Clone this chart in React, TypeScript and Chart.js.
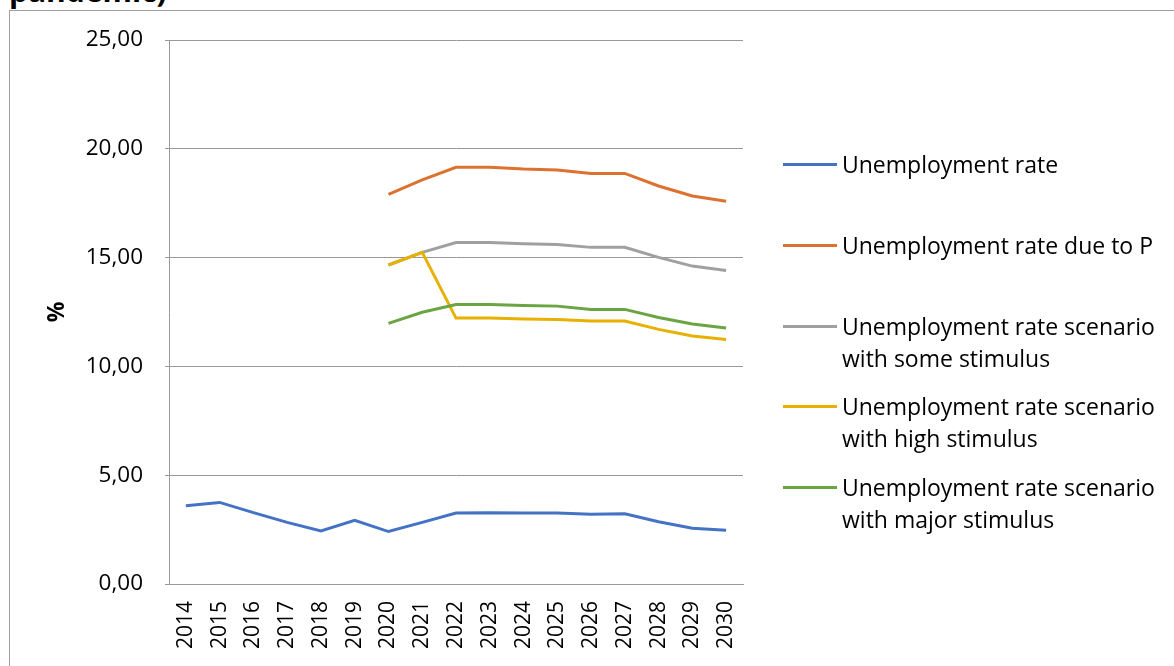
import React, { useEffect, useRef } from "react";
import { Chart, registerables } from "chart.js";

Chart.register(...registerables);

const years = ["2014", "2015", "2016", "2017", "2018", "2019", "2020", "2021", "2022", "2023", "2024", "2025", "2026", "2027", "2028", "2029", "2030"];
const unemployment = [3.6, 3.75, 3.28, 2.83, 2.44, 2.93, 2.41, 2.83, 3.26, 3.28, 3.26, 3.26, 3.2, 3.23, 2.86, 2.56, 2.47];
const dueToP = [null, null, null, null, null, null, 17.91, 18.57, 19.15, 19.15, 19.07, 19.03, 18.87, 18.87, 18.29, 17.83, 17.59];
const someStimulus = [null, null, null, null, null, null, 14.66, 15.24, 15.69, 15.69, 15.64, 15.6, 15.47, 15.47, 15.01, 14.61, 14.41];
const highStimulus = [null, null, null, null, null, null, 14.66, 15.24, 12.22, 12.22, 12.18, 12.16, 12.09, 12.09, 11.7, 11.4, 11.24];
const majorStimulus = [null, null, null, null, null, null, 11.98, 12.49, 12.84, 12.84, 12.8, 12.77, 12.62, 12.62, 12.25, 11.95, 11.76];
const yTicks = [0, 5, 10, 15, 20, 25];

const seriesLabels = [
  ["Unemployment rate"],
  ["Unemployment rate due to P"],
  ["Unemployment rate scenario", "with some stimulus"],
  ["Unemployment rate scenario", "with high stimulus"],
  ["Unemployment rate scenario", "with major stimulus"],
];
const seriesData = [unemployment, dueToP, someStimulus, highStimulus, majorStimulus];
const seriesColors = ["#4472C4", "#DD7130", "#A0A0A0", "#E8B000", "#6AA443"];

const FONT = "'Open Sans', sans-serif";
const legendCenters = [164, 245, 326, 406, 487];

export default function App() {
  const ref = useRef<HTMLCanvasElement>(null);

  useEffect(() => {
    if (!ref.current) return;
    const chart = new Chart(ref.current, {
      type: "line",
      data: {
        labels: years,
        datasets: seriesData.map((d, i) => ({
          label: seriesLabels[i].join(" "),
          data: d,
          borderColor: seriesColors[i],
          backgroundColor: seriesColors[i],
          borderWidth: 3,
          pointRadius: 0,
          tension: 0,
          spanGaps: false,
          order: seriesData.length - i,
        })),
      },
      options: {
        animation: false,
        responsive: false,
        devicePixelRatio: 1,
        layout: { padding: { top: 40, right: 431, left: 0, bottom: 0 } },
        plugins: { legend: { display: false }, tooltip: { enabled: false }, title: { display: false } },
        scales: {
          x: {
            offset: true,
            grid: { display: false, drawTicks: false },
            border: { display: true, color: "#999999", width: 1 },
            ticks: {
              autoSkip: false,
              maxRotation: 90,
              minRotation: 90,
              padding: 17,
              color: "#000",
              font: { family: FONT, size: 21 },
            },
            afterFit: (scale: any) => {
              scale.height = 82;
            },
          },
          y: {
            min: 0,
            max: 25,
            afterBuildTicks: (scale: any) => {
              scale.ticks = yTicks.map((v) => ({ value: v }));
            },
            grid: { color: "#999999", lineWidth: 1, drawTicks: true, tickLength: 4 },
            border: { display: true, color: "#999999", width: 1 },
            ticks: {
              padding: 22,
              color: "#000",
              font: { family: FONT, size: 22.5 },
              callback: (v: any) => Number(v).toFixed(2).replace(".", ","),
            },
            title: {
              display: true,
              text: "%",
              color: "#000",
              font: { family: FONT, size: 23, weight: "bold" },
              padding: { top: 44, bottom: 0 },
            },
            afterFit: (scale: any) => {
              scale.width = 169;
            },
          },
        },
      },
    });
    return () => chart.destroy();
  }, []);

  return (
    <div style={{ position: "absolute", left: 0, top: 0, width: 1174, height: 666, overflow: "hidden", background: "#fff" }}>
      <div
        style={{
          position: "absolute",
          left: 9,
          top: 10,
          width: 1300,
          height: 800,
          borderLeft: "1px solid #a0a0a0",
          borderTop: "1px solid #a0a0a0",
        }}
      />
      <div
        style={{
          position: "absolute",
          left: 9,
          top: -24,
          fontFamily: FONT,
          fontWeight: "bold",
          fontSize: 30,
          lineHeight: "30px",
          color: "#000",
          whiteSpace: "nowrap",
        }}
      >
        pandemic)
      </div>
      <canvas ref={ref} width={1174} height={666} style={{ position: "absolute", left: 0, top: 0, width: 1174, height: 666 }} />
      {seriesLabels.map((lines, i) => (
        <React.Fragment key={i}>
          <div
            style={{
              position: "absolute",
              left: 783,
              top: legendCenters[i] - 1.5,
              width: 54,
              height: 3,
              background: seriesColors[i],
            }}
          />
          <div
            style={{
              position: "absolute",
              left: 842,
              top: legendCenters[i] - 16,
              fontFamily: FONT,
              fontSize: 23,
              lineHeight: "32px",
              color: "#000",
              whiteSpace: "nowrap",
            }}
          >
            {lines.map((l, j) => (
              <div key={j}>{l}</div>
            ))}
          </div>
        </React.Fragment>
      ))}
    </div>
  );
}
